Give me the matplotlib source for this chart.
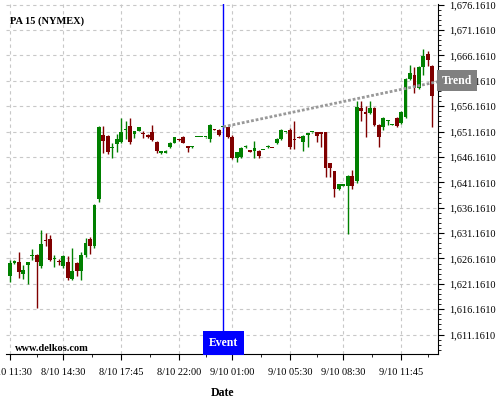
import matplotlib
matplotlib.use("Agg")
import matplotlib.pyplot as plt
from matplotlib.ticker import FixedLocator

# candle data (15 min bars)
opens = [1622.65, 1625.3, 1625.5, 1623.1, 1624.8, 1626.6, 1626.9, 1624.7, 1629.8, 1629.9,
         1626.0, 1625.6, 1624.7, 1625.5, 1622.2, 1625.2, 1623.7, 1626.8, 1629.9, 1628.7,
         1637.8, 1650.55, 1650.2, 1647.9, 1648.7, 1649.2, 1651.4, 1652.3, 1650.7, 1651.3,
         1650.8, 1650.5, 1651.1, 1649.2, 1647.0, 1646.95, 1648.06, 1649.0, 1649.6, 1650.15,
         1648.1, 1648.1, 1650.0, 1650.0, 1650.0, 1649.7, 1651.6, 1651.5, 1652.0, 1652.0,
         1650.15, 1646.0, 1646.2, 1648.06, 1647.4, 1647.3, 1647.4, 1647.5, 1648.06, 1648.0,
         1648.9, 1649.7, 1651.0, 1651.5, 1649.6, 1650.16, 1649.2, 1650.4, 1651.0, 1651.0,
         1651.0, 1651.0, 1644.9, 1643.3, 1639.75, 1640.5, 1640.4, 1642.5, 1641.4, 1655.9,
         1655.07, 1654.9, 1655.9, 1652.5, 1652.0, 1653.2, 1652.5, 1653.8, 1652.8, 1654.07,
         1661.6, 1662.3, 1659.7, 1663.8, 1666.5, 1664.1]
highs = [1625.8, 1625.9, 1627.4, 1624.8, 1625.5, 1628.1, 1627.0, 1631.7, 1631.1, 1630.7,
         1626.8, 1626.1, 1626.9, 1626.6, 1628.2, 1625.5, 1627.4, 1630.2, 1630.4, 1636.9,
         1652.3, 1652.3, 1650.5, 1649.0, 1650.7, 1653.8, 1653.3, 1653.8, 1651.3, 1652.1,
         1651.2, 1650.6, 1652.5, 1649.3, 1647.3, 1647.5, 1649.1, 1650.1, 1649.7, 1650.3,
         1648.1, 1648.4, 1650.0, 1650.0, 1650.0, 1652.6, 1651.6, 1651.6, 1652.1, 1652.1,
         1650.5, 1647.2, 1648.1, 1648.5, 1647.5, 1649.3, 1647.5, 1647.6, 1648.5, 1648.0,
         1649.9, 1651.6, 1651.1, 1651.8, 1653.3, 1650.2, 1650.5, 1650.9, 1651.1, 1651.1,
         1651.1, 1651.1, 1645.0, 1643.4, 1640.9, 1640.7, 1642.6, 1643.6, 1657.2, 1657.2,
         1656.25, 1657.2, 1656.1, 1652.6, 1654.0, 1653.4, 1652.6, 1654.0, 1655.2, 1661.7,
         1664.3, 1663.9, 1664.1, 1667.4, 1667.06, 1664.2]
lows = [1621.5, 1625.1, 1622.3, 1622.2, 1621.1, 1625.8, 1616.4, 1624.3, 1628.6, 1625.7,
        1624.5, 1624.8, 1624.3, 1621.9, 1621.9, 1622.7, 1621.9, 1626.5, 1627.1, 1628.3,
        1637.3, 1646.9, 1646.8, 1646.0, 1647.1, 1649.0, 1649.7, 1648.7, 1649.9, 1651.2,
        1649.9, 1649.9, 1649.3, 1647.0, 1646.8, 1646.9, 1647.9, 1648.9, 1649.4, 1648.9,
        1647.07, 1648.0, 1650.0, 1650.0, 1649.8, 1649.2, 1651.4, 1650.2, 1651.9, 1649.9,
        1645.8, 1645.1, 1645.9, 1647.9, 1647.1, 1646.0, 1645.9, 1647.5, 1648.0, 1647.9,
        1648.8, 1649.5, 1650.9, 1647.7, 1647.7, 1649.8, 1647.27, 1648.1, 1650.9, 1649.04,
        1648.06, 1642.3, 1642.3, 1638.2, 1639.7, 1640.4, 1631.05, 1639.9, 1641.0, 1653.3,
        1650.0, 1654.6, 1652.2, 1648.06, 1651.5, 1652.5, 1652.4, 1652.0, 1652.6, 1653.8,
        1661.4, 1658.7, 1659.5, 1662.4, 1664.1, 1652.1]
closes = [1625.3, 1625.6, 1623.5, 1623.8, 1625.4, 1626.9, 1625.5, 1629.1, 1629.6, 1625.9,
          1626.2, 1625.4, 1626.6, 1622.3, 1623.6, 1623.6, 1626.9, 1629.3, 1628.6, 1636.6,
          1652.0, 1649.4, 1647.1, 1648.1, 1649.7, 1651.1, 1651.5, 1649.2, 1651.2, 1652.1,
          1650.6, 1650.0, 1649.5, 1647.4, 1647.1, 1647.4, 1649.0, 1650.0, 1649.5, 1649.0,
          1648.0, 1648.3, 1650.0, 1650.0, 1650.0, 1652.5, 1651.5, 1650.4, 1652.1, 1650.15,
          1646.0, 1647.1, 1648.0, 1648.4, 1647.2, 1647.9, 1646.3, 1647.6, 1648.4, 1647.9,
          1649.7, 1651.5, 1651.0, 1648.06, 1649.5, 1649.9, 1650.36, 1650.8, 1651.0, 1650.36,
          1650.6, 1644.0, 1644.0, 1639.9, 1640.9, 1640.6, 1642.5, 1640.4, 1656.05, 1655.3,
          1654.6, 1655.9, 1652.5, 1650.16, 1653.8, 1653.3, 1652.55, 1652.2, 1655.07, 1661.6,
          1662.7, 1659.7, 1663.8, 1666.07, 1665.2, 1658.2]
up_bar = [1, 1, 0, 1, 1, 1, 0, 1, 0, 0, 1, 0, 1, 0, 1, 0, 1, 1, 0, 1,
          1, 0, 0, 1, 1, 1, 1, 0, 1, 1, 0, 0, 0, 0, 1, 1, 1, 1, 0, 0,
          0, 1, 1, 1, 1, 1, 0, 0, 1, 0, 0, 1, 1, 1, 0, 1, 0, 1, 1, 0,
          1, 1, 1, 0, 0, 0, 1, 1, 1, 0, 0, 0, 0, 0, 1, 1, 1, 0, 1, 0,
          0, 1, 0, 0, 1, 1, 1, 0, 1, 1, 1, 0, 1, 1, 0, 0]

tick_pos = [0, 12, 25, 38, 50, 63, 75, 88]
tick_labels = ["8/10 11:30", "8/10 14:30", "8/10 17:45", "8/10 22:00",
               "9/10 01:00", "9/10 05:30", "9/10 08:30", "9/10 11:45"]
price_ticks = [1611.161 + 5 * k for k in range(14)]

event_bar = 48
trend_start = 1652.1
trend_end = 1661.0

serif = "Liberation Serif"
green = "#008000"
red = "#800000"

fig = plt.figure(figsize=(5, 4), dpi=100)
ax = fig.add_axes([0.012, 0.115, 0.864, 0.875])
x_left, x_right = -0.9, 96.3
ax.set_xlim(x_left, x_right)
ax.set_ylim(1607.33, 1676.3)

for i in range(len(opens)):
    col = green if up_bar[i] else red
    ax.vlines(i, lows[i], highs[i], color=col, lw=1, zorder=3)
    lo = min(opens[i], closes[i])
    h = max(abs(closes[i] - opens[i]), 0.25)
    ax.bar(i, h, bottom=lo, width=0.85, color=col, lw=0, zorder=3)

# event marker and trend
ax.axvline(event_bar, color="blue", lw=1, zorder=4)
ax.plot([event_bar, x_right], [trend_start, trend_end], color="#999999",
        lw=2, linestyle=(0, (1, 0.7)), zorder=4)

ax.text(event_bar, 0.032, "Event", transform=ax.get_xaxis_transform(),
        ha="center", va="center", color="white", fontsize=8.5, fontweight="bold",
        family=serif, zorder=6,
        bbox=dict(boxstyle="square,pad=0.5", fc="blue", ec="none"))
ax.text(1.0085, trend_end + 0.2, "Trend", transform=ax.get_yaxis_transform(),
        ha="left", va="center", color="white", fontsize=8.5, fontweight="bold",
        family=serif, zorder=6, clip_on=False,
        bbox=dict(boxstyle="square,pad=0.4", fc="#808080", ec="none"))

ax.text(0.009, 0.95, "PA 15 (NYMEX)", transform=ax.transAxes, fontsize=7.5,
        fontweight="bold", family=serif, va="center")
ax.text(0.021, 0.017, "www.delkos.com", transform=ax.transAxes, fontsize=7.5,
        fontweight="bold", family=serif, va="center")

# axes styling
for s in ["left", "top"]:
    ax.spines[s].set_visible(False)
ax.yaxis.tick_right()
ax.yaxis.set_major_locator(FixedLocator(price_ticks))
ax.yaxis.set_minor_locator(FixedLocator([1608.161 + k for k in range(69)]))
ax.set_yticklabels([f"{v:,.4f}" for v in price_ticks], family=serif, fontsize=7.5)
ax.set_xticks(tick_pos)
ax.set_xticklabels(tick_labels, family=serif, fontsize=7.5)
ax.xaxis.set_minor_locator(FixedLocator(
    [(tick_pos[k] + tick_pos[k + 1]) / 2 for k in range(len(tick_pos) - 1)] + [94]))
ax.tick_params(which="major", length=4, width=0.8)
ax.tick_params(axis="x", which="major", pad=6)
ax.tick_params(axis="y", which="major", pad=4)
ax.tick_params(which="minor", length=2, width=0.6)
ax.grid(which="major", color="#c8c8c8", linestyle=(0, (3, 3)), lw=0.8)
ax.set_axisbelow(True)
ax.set_xlabel("Date", family=serif, fontsize=8.5, fontweight="bold", labelpad=7)

fig.savefig("out.png", dpi=100)
